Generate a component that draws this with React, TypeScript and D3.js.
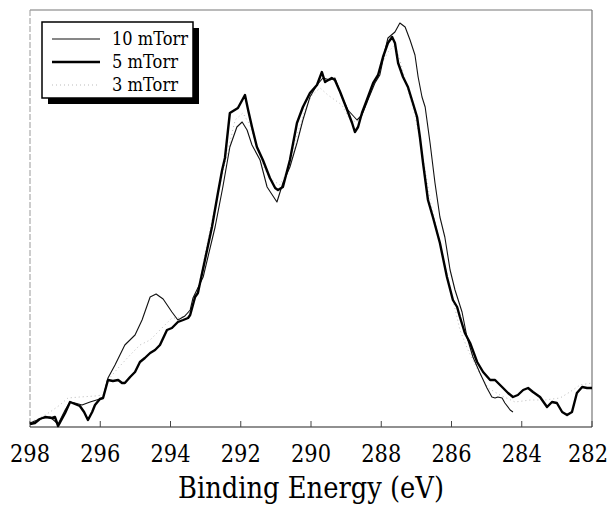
import React from "react";
import * as d3 from "d3";

// Binding energy (eV) and intensity (a.u.)
const s10: [number, number][] = [
  [298.0, 4], [297.72, 8], [297.43, 10], [297.2, 3], [297.0, 17], [296.86, 25], [296.72, 24],
  [296.52, 22], [296.29, 25], [295.92, 29], [295.78, 49], [295.58, 62], [295.3, 82], [295.01, 92],
  [294.81, 107], [294.58, 130], [294.41, 133], [294.21, 128], [293.96, 115], [293.79, 107],
  [293.59, 111], [293.44, 117], [293.36, 129], [293.07, 150], [292.73, 200], [292.51, 240],
  [292.31, 280], [292.11, 300], [291.96, 305], [291.82, 297], [291.68, 282], [291.45, 267],
  [291.25, 240], [290.97, 225], [290.8, 244], [290.6, 260], [290.4, 284], [290.23, 307],
  [290.03, 330], [289.83, 342], [289.66, 349], [289.46, 347], [289.32, 349], [289.12, 330],
  [288.95, 317], [288.69, 307], [288.55, 312], [288.38, 327], [288.18, 344], [288.04, 352],
  [287.89, 377], [287.81, 389], [287.61, 395], [287.47, 404], [287.32, 400], [287.18, 387],
  [287.04, 372], [286.95, 350], [286.84, 330], [286.75, 320], [286.61, 284], [286.47, 244],
  [286.33, 210], [286.19, 190], [286.04, 157], [285.9, 137], [285.7, 115], [285.56, 90],
  [285.39, 70], [285.19, 54], [284.99, 39], [284.85, 30], [284.76, 29], [284.68, 30],
  [284.56, 29], [284.48, 24], [284.33, 17], [284.25, 15],
];

const s5: [number, number][] = [
  [298.0, 3], [297.86, 4], [297.72, 8], [297.57, 10], [297.37, 9], [297.29, 10], [297.2, 1],
  [297.0, 14], [296.86, 25], [296.72, 23], [296.58, 21], [296.46, 15], [296.35, 7], [296.23, 15],
  [296.15, 22], [296.01, 28], [295.92, 29], [295.78, 47], [295.64, 46], [295.49, 47], [295.38, 44],
  [295.3, 44], [295.15, 50], [295.01, 55], [294.87, 65], [294.73, 69], [294.58, 74], [294.44, 77],
  [294.3, 82], [294.1, 97], [293.96, 99], [293.79, 105], [293.64, 107], [293.5, 109], [293.44, 112],
  [293.3, 130], [293.22, 134], [293.02, 167], [292.82, 200], [292.65, 234], [292.53, 257],
  [292.45, 269], [292.31, 314], [292.08, 319], [291.88, 332], [291.79, 317], [291.68, 300],
  [291.54, 280], [291.37, 267], [291.17, 249], [291.02, 239], [290.94, 237], [290.8, 240],
  [290.6, 267], [290.4, 304], [290.23, 320], [290.03, 334], [289.83, 342], [289.69, 355],
  [289.6, 345], [289.41, 349], [289.32, 347], [289.17, 335], [288.97, 317], [288.83, 304],
  [288.75, 295], [288.66, 300], [288.55, 314], [288.41, 327], [288.23, 344], [288.09, 352],
  [287.95, 370], [287.81, 384], [287.69, 390], [287.61, 384], [287.52, 364], [287.38, 350],
  [287.24, 340], [287.1, 324], [286.98, 310], [286.9, 290], [286.81, 264], [286.67, 227],
  [286.53, 210], [286.33, 184], [286.13, 150], [285.96, 127], [285.84, 120], [285.76, 110],
  [285.62, 94], [285.47, 84], [285.27, 65], [285.1, 55], [284.9, 47], [284.76, 47], [284.56, 40],
  [284.39, 34], [284.25, 30], [284.11, 32], [283.96, 37], [283.82, 39], [283.68, 35], [283.48, 30],
  [283.28, 20], [283.14, 25], [283.0, 24], [282.85, 15], [282.71, 12], [282.57, 15], [282.43, 34],
  [282.28, 40], [282.14, 39], [282.0, 39],
];

const s3: [number, number][] = [
  [298.0, 5], [297.72, 9], [297.43, 15], [297.15, 22], [296.92, 29], [296.58, 30], [296.15, 31],
  [295.92, 32], [295.78, 47], [295.49, 59], [295.15, 72], [294.87, 82], [294.58, 87], [294.3, 97],
  [293.96, 109], [293.73, 109], [293.44, 115], [293.22, 137], [293.02, 172], [292.82, 207],
  [292.59, 242], [292.36, 277], [292.16, 307], [291.94, 314], [291.74, 302], [291.51, 277],
  [291.31, 257], [291.11, 247], [290.88, 242], [290.6, 262], [290.4, 292], [290.17, 317],
  [289.97, 332], [289.74, 339], [289.52, 332], [289.32, 327], [289.12, 322], [288.89, 307],
  [288.69, 305], [288.46, 319], [288.26, 337], [288.04, 359], [287.81, 375], [287.61, 382],
  [287.47, 367], [287.24, 337], [287.04, 312], [286.9, 287], [286.75, 257], [286.61, 227],
  [286.41, 197], [286.19, 162], [285.99, 132], [285.76, 97], [285.53, 77], [285.25, 57],
  [284.96, 39], [284.62, 32], [284.19, 25], [283.76, 27], [283.34, 27], [282.91, 29],
  [282.63, 35], [282.34, 42], [282.0, 44],
];

const xTicks = [298, 296, 294, 292, 290, 288, 286, 284, 282];
const seriesNames = ["10 mTorr", "5 mTorr", "3 mTorr"];

const W = 613, H = 505;
const left = 30, right = 592, top = 10, bottom = 427;

export default function App() {
  const x = d3.scaleLinear().domain([298, 282]).range([left, right]);
  const y = d3.scaleLinear().domain([0, 417]).range([bottom, top]);
  const line = d3.line<[number, number]>().x(d => x(d[0])).y(d => y(d[1]));
  const serif = { fontFamily: "DejaVu Serif" };
  const styles = [
    { stroke: "#111", width: 1.1, dash: undefined as string | undefined },
    { stroke: "#000", width: 2.4, dash: undefined as string | undefined },
    { stroke: "#bbb", width: 1, dash: "1 3" },
  ];
  const data = [s10, s5, s3];
  return (
    <svg width={W} height={H} style={{ position: "absolute", left: 0, top: 0, background: "#fff" }}>
      <rect x={0} y={0} width={W} height={H} fill="#fff" />
      <line x1={left} x2={right} y1={top} y2={top} stroke="#777" strokeWidth={1.2} />
      <line x1={right} x2={right} y1={top} y2={bottom} stroke="#777" strokeWidth={1.2} />
      <line x1={left} x2={left} y1={top} y2={bottom} stroke="#999" strokeWidth={1} strokeDasharray="6 2" />
      <line x1={left} x2={right} y1={bottom} y2={bottom} stroke="#222" strokeWidth={1.2} />
      {xTicks.map(t => (
        <g key={t}>
          <line x1={x(t)} x2={x(t)} y1={bottom} y2={bottom - 6} stroke="#444" strokeWidth={1} />
          <text x={Math.min(x(t), W - 25)} y={462} style={serif} fontSize={24} textAnchor="middle" fill="#000"
            textLength={40} lengthAdjust="spacingAndGlyphs">{t}</text>
        </g>
      ))}
      <text x={(left + right) / 2} y={498} style={serif} fontSize={29} textAnchor="middle" fill="#000"
        textLength={266} lengthAdjust="spacingAndGlyphs">
        Binding Energy (eV)
      </text>
      {[2, 0, 1].map(i => (
        <path key={i} d={line(data[i]) || ""} fill="none" stroke={styles[i].stroke}
          strokeWidth={styles[i].width} strokeDasharray={styles[i].dash} strokeLinejoin="round" />
      ))}
      <rect x={48} y={28} width={151} height={76} fill="#000" />
      <rect x={42} y={22} width={151} height={76} fill="#fff" stroke="#000" strokeWidth={1.5} />
      {seriesNames.map((n, i) => (
        <g key={n}>
          <line x1={52} x2={100} y1={39 + i * 23} y2={39 + i * 23} stroke={styles[i].stroke}
            strokeWidth={styles[i].width} strokeDasharray={styles[i].dash} />
          <text x={112} y={39 + i * 23} dy="0.35em" style={serif} fontSize={18} fill="#000"
            textLength={n.length === 8 ? 76 : 66} lengthAdjust="spacingAndGlyphs">{n}</text>
        </g>
      ))}
    </svg>
  );
}
